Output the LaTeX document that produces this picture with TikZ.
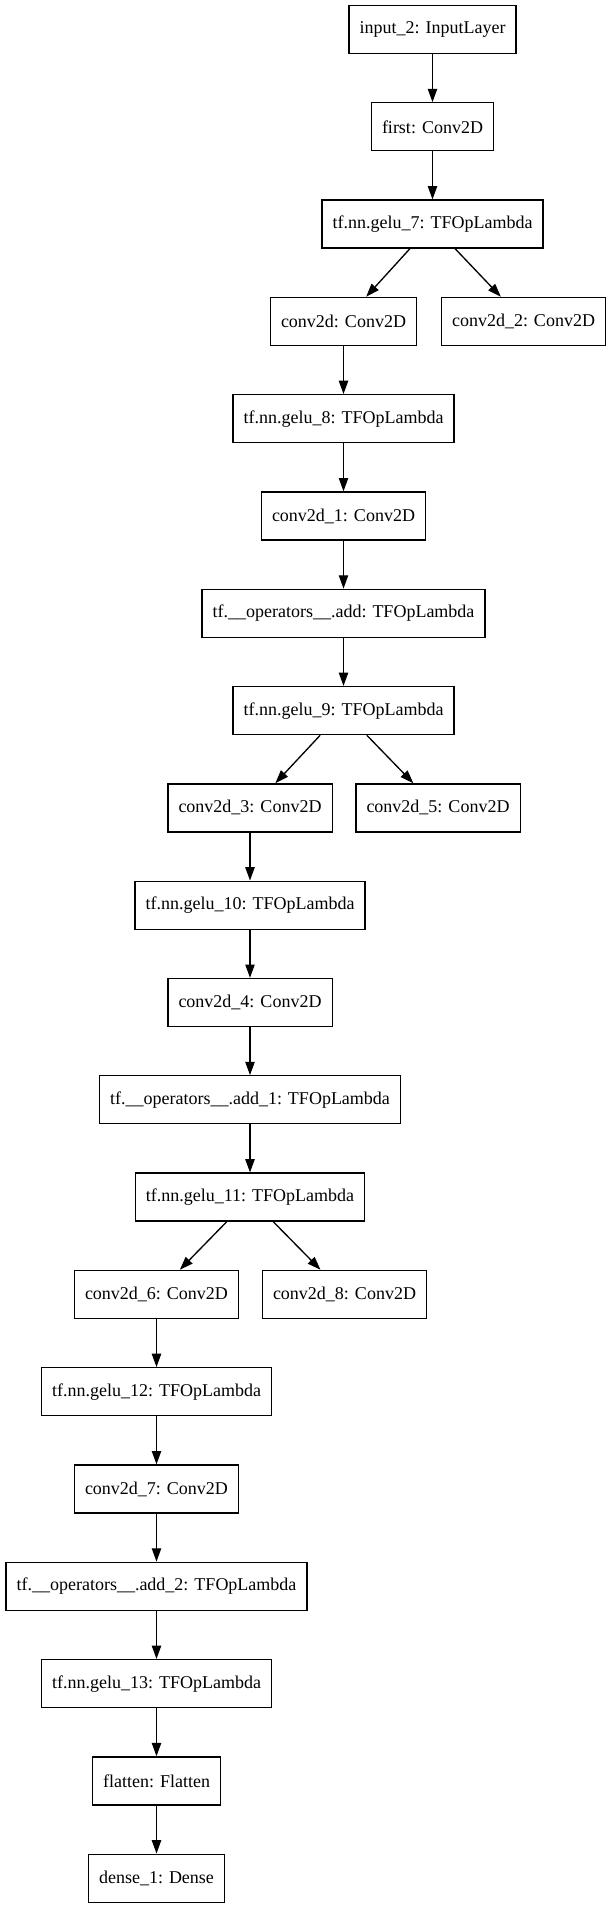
\documentclass[tikz,border=0pt]{standalone}
\usepackage{fontspec}
\setmainfont{Liberation Serif}
\usetikzlibrary{arrows.meta}

\tikzset{
  layer/.style={draw, rectangle, line width=1pt, minimum height=36pt, inner xsep=8pt, inner ysep=0pt},
  flow/.style={-{Triangle[length=10pt,width=7pt]}, line width=1pt},
}

\begin{document}
\begin{tikzpicture}[x=0.75pt, y=-0.75pt, font=\fontsize{13.5pt}{16pt}\selectfont]
        \useasboundingbox (0,0) rectangle (611,1909);

        % Stem
        \node[layer] (inp) at (432.5,29.5) {input\_2: InputLayer};
        \node[layer] (first) at (432.5,126.8) {first: Conv2D};
        \node[layer] (gelu7) at (432.5,224.1) {tf.nn.gelu\_7: TFOpLambda};

        % Block 1
        \node[layer] (conv0) at (343.5,321.4) {conv2d: Conv2D};
        \node[layer] (conv2) at (523.5,321.4) {conv2d\_2: Conv2D};
        \node[layer] (gelu8) at (343.5,418.7) {tf.nn.gelu\_8: TFOpLambda};
        \node[layer] (conv1) at (343.5,516) {conv2d\_1: Conv2D};
        \node[layer] (add0) at (343.5,613.3) {tf.\_\_operators\_\_.add: TFOpLambda};
        \node[layer] (gelu9) at (343.5,710.6) {tf.nn.gelu\_9: TFOpLambda};

        % Block 2
        \node[layer] (conv3) at (250,807.9) {conv2d\_3: Conv2D};
        \node[layer] (conv5) at (438,807.9) {conv2d\_5: Conv2D};
        \node[layer] (gelu10) at (250,905.2) {tf.nn.gelu\_10: TFOpLambda};
        \node[layer] (conv4) at (250,1002.5) {conv2d\_4: Conv2D};
        \node[layer] (add1) at (250,1099.8) {tf.\_\_operators\_\_.add\_1: TFOpLambda};
        \node[layer] (gelu11) at (250,1197.1) {tf.nn.gelu\_11: TFOpLambda};

        % Block 3
        \node[layer] (conv6) at (156.5,1294.4) {conv2d\_6: Conv2D};
        \node[layer] (conv8) at (344.5,1294.4) {conv2d\_8: Conv2D};
        \node[layer] (gelu12) at (156.5,1391.7) {tf.nn.gelu\_12: TFOpLambda};
        \node[layer] (conv7) at (156.5,1489) {conv2d\_7: Conv2D};
        \node[layer] (add2) at (156.5,1586.3) {tf.\_\_operators\_\_.add\_2: TFOpLambda};
        \node[layer] (gelu13) at (156.5,1683.6) {tf.nn.gelu\_13: TFOpLambda};

        % Head
        \node[layer] (flat) at (156.5,1780.9) {flatten: Flatten};
        \node[layer] (dense) at (156.5,1878.2) {dense\_1: Dense};

        % Chain edges
        \draw[flow] (inp) -- (first);
        \draw[flow] (first) -- (gelu7);
        \draw[flow] (conv0) -- (gelu8);
        \draw[flow] (gelu8) -- (conv1);
        \draw[flow] (conv1) -- (add0);
        \draw[flow] (add0) -- (gelu9);
        \draw[flow] (conv3) -- (gelu10);
        \draw[flow] (gelu10) -- (conv4);
        \draw[flow] (conv4) -- (add1);
        \draw[flow] (add1) -- (gelu11);
        \draw[flow] (conv6) -- (gelu12);
        \draw[flow] (gelu12) -- (conv7);
        \draw[flow] (conv7) -- (add2);
        \draw[flow] (add2) -- (gelu13);
        \draw[flow] (gelu13) -- (flat);
        \draw[flow] (flat) -- (dense);

        % Branch edges
        \draw[flow] ([xshift=-17pt]gelu7.south) -- ([xshift=17pt]conv0.north);
        \draw[flow] ([xshift=17pt]gelu7.south) -- ([xshift=-17pt]conv2.north);
        \draw[flow] ([xshift=-17.5pt]gelu9.south) -- ([xshift=19pt]conv3.north);
        \draw[flow] ([xshift=17.5pt]gelu9.south) -- ([xshift=-18.5pt]conv5.north);
        \draw[flow] ([xshift=-17.5pt]gelu11.south) -- ([xshift=17.5pt]conv6.north);
        \draw[flow] ([xshift=17.5pt]gelu11.south) -- ([xshift=-18pt]conv8.north);
    \end{tikzpicture}
\end{document}
